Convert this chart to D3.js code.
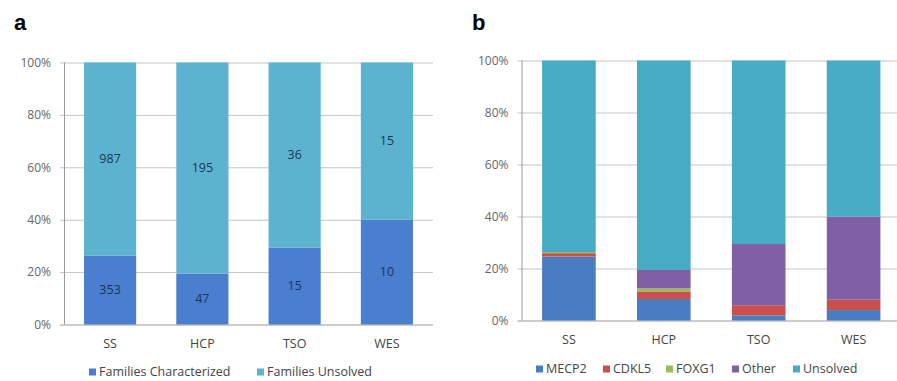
<!DOCTYPE html>
<html>
<head>
<meta charset="utf-8">
<script src="https://cdnjs.cloudflare.com/ajax/libs/d3/7.8.5/d3.min.js"></script>
<style>
  body { margin: 0; background: #fff; }
  svg { display: block; font-family: "Open Sans", sans-serif; }
</style>
</head>
<body>
<div id="chart"></div>
<script>
// categories shared by both panels
var categories = ['SS', 'HCP', 'TSO', 'WES'];
var yTicks = [0, 0.2, 0.4, 0.6, 0.8, 1];

// panel a: family counts
var aSeries = ['Families Characterized', 'Families Unsolved'];
var aCharacterized = [353, 47, 15, 10];
var aUnsolved = [987, 195, 36, 15];
var aColors = ['#4a7fd0', '#5cb3cf'];

// panel b: counts per gene
var bSeries = ['MECP2', 'CDKL5', 'FOXG1', 'Other', 'Unsolved'];
var bMECP2 = [330, 20, 1, 1];
var bCDKL5 = [17, 7, 2, 1];
var bFOXG1 = [6, 3, 0, 0];
var bOther = [0, 17, 12, 8];
var bUnsolved = [987, 195, 36, 15];
var bColors = ['#4a7cc2', '#c9504d', '#9bbb59', '#7f5fa6', '#48abc6'];

var svg = d3.select('#chart').append('svg').attr('width', 897).attr('height', 381);

function panel(opt) {
  var g = svg.append('g');
  var x = d3.scaleBand().domain(categories).range([opt.x0, opt.x1])
    .paddingInner(0.435).paddingOuter(0.217);
  var y = d3.scaleLinear().domain([0, 1]).range([opt.y0, opt.y1]);

  // gridlines
  g.selectAll('line.grid').data(yTicks).enter().append('line')
    .attr('x1', opt.x0 - 4).attr('x2', opt.x1)
    .attr('y1', function(d) { return y(d) + 0.5; })
    .attr('y2', function(d) { return y(d) + 0.5; })
    .style('stroke', function(d) { return d === 0 ? '#9a9a9a' : '#c4c4c4'; })
    .style('stroke-width', 1);
  g.append('line')
    .attr('x1', opt.x0 + 0.5).attr('x2', opt.x0 + 0.5)
    .attr('y1', y(1)).attr('y2', y(0))
    .style('stroke', '#9a9a9a');

  // y labels
  g.selectAll('text.ytick').data(yTicks).enter().append('text')
    .attr('x', opt.x0 - 13)
    .attr('y', function(d) { return y(d); })
    .attr('dy', '0.35em')
    .attr('text-anchor', 'end')
    .style('font-size', '12px')
    .style('fill', '#666')
    .text(d3.format('.0%'));

  // stacked bars
  var rows = categories.map(function(c, i) {
    var r = {cat: c};
    var total = 0;
    opt.series.forEach(function(s, j) { r[s] = opt.values[j][i]; total += opt.values[j][i]; });
    opt.series.forEach(function(s) { r[s] = r[s] / total; });
    r.counts = opt.values.map(function(v) { return v[i]; });
    return r;
  });
  var stack = d3.stack().keys(opt.series)(rows);

  var layer = g.selectAll('g.layer').data(stack).enter().append('g')
    .style('fill', function(d, i) { return opt.colors[i]; });
  layer.selectAll('rect').data(function(d) { return d; }).enter().append('rect')
    .attr('x', function(d) { return x(d.data.cat); })
    .attr('width', x.bandwidth())
    .attr('y', function(d) { return y(d[1]); })
    .attr('height', function(d) { return y(d[0]) - y(d[1]); });

  if (opt.labels) {
    stack.forEach(function(s, j) {
      g.selectAll('text.lab' + j).data(s).enter().append('text')
        .attr('x', function(d) { return x(d.data.cat) + x.bandwidth() / 2; })
        .attr('y', function(d) { return y((d[0] + d[1]) / 2); })
        .attr('dy', '0.35em')
        .attr('text-anchor', 'middle')
        .style('font-size', '12.5px')
        .style('fill', '#1f3450')
        .text(function(d) { return d.data.counts[j]; });
    });
  }

  // x labels
  g.selectAll('text.xlab').data(categories).enter().append('text')
    .attr('x', function(d) { return x(d) + x.bandwidth() / 2; })
    .attr('y', opt.y0 + 19)
    .attr('dy', '0.35em')
    .attr('text-anchor', 'middle')
    .style('font-size', '12.5px')
    .style('fill', '#444')
    .text(function(d) { return d; });

  // legend
  var lg = g.selectAll('g.leg').data(opt.series).enter().append('g')
    .attr('transform', function(d, i) { return 'translate(' + opt.legendX[i] + ',' + opt.legendY + ')'; });
  lg.append('rect').attr('x', 0).attr('y', -3.5).attr('width', 7).attr('height', 7)
    .style('fill', function(d, i) { return opt.colors[i]; });
  lg.append('text').attr('x', 10).attr('dy', '0.35em')
    .style('font-size', '12.5px').style('fill', '#444')
    .text(function(d) { return d; });

  svg.append('text').attr('x', opt.letterX).attr('y', 30)
    .style('font-size', '22px').style('font-weight', 'bold')
    .style('font-family', '"Liberation Sans", sans-serif')
    .text(opt.letter);
}

panel({
  letter: 'a', letterX: 14,
  x0: 64, x1: 433, y0: 324.5, y1: 62.5,
  series: aSeries, values: [aCharacterized, aUnsolved], colors: aColors,
  labels: true,
  legendY: 372, legendX: [89, 257]
});

panel({
  letter: 'b', letterX: 472,
  x0: 521.5, x1: 901, y0: 320.5, y1: 60.5,
  series: bSeries, values: [bMECP2, bCDKL5, bFOXG1, bOther, bUnsolved], colors: bColors,
  labels: false,
  legendY: 369, legendX: [536, 603, 666, 732, 793]
});
</script>
</body>
</html>
